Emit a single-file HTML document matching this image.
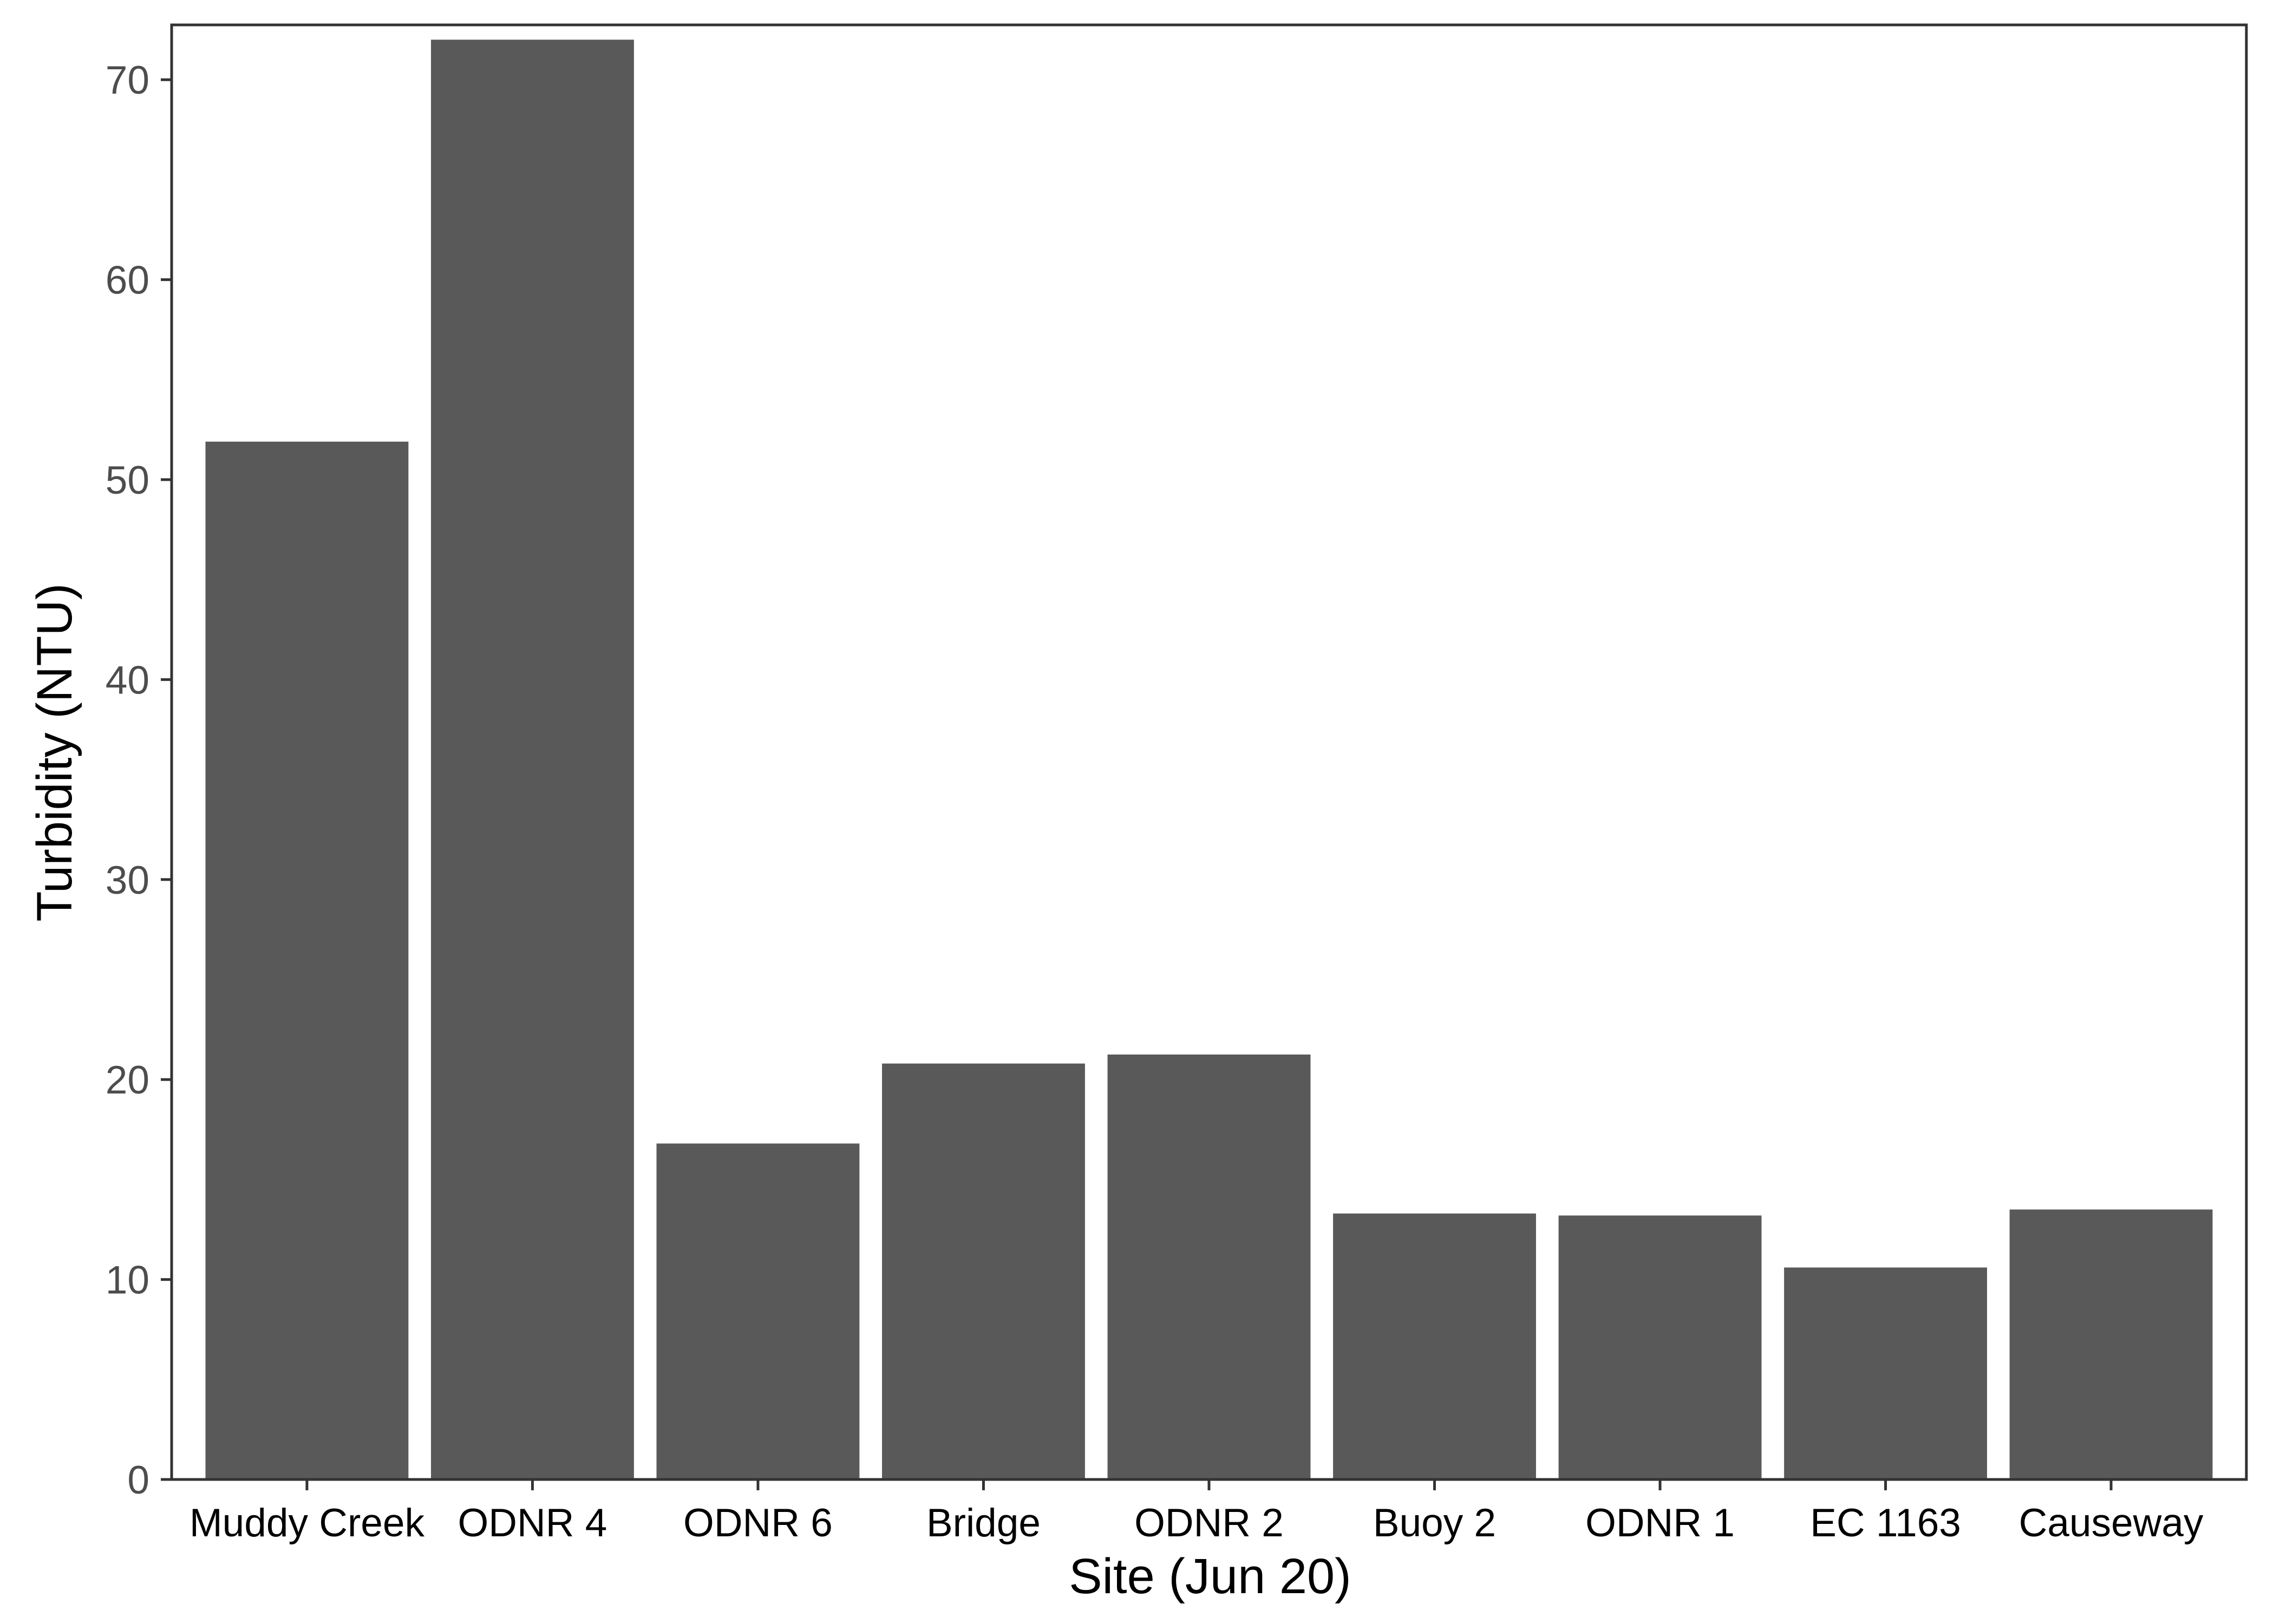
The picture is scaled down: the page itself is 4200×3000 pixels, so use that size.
<!DOCTYPE html>
<html><head><meta charset="utf-8"><style>
html,body{margin:0;padding:0;background:#fff;}
svg{display:block;font-family:"Liberation Sans",Arial,sans-serif;}
</style></head><body>
<svg id="chart" width="4200" height="3000" viewBox="0 0 4200 3000" xmlns="http://www.w3.org/2000/svg">
<rect x="0" y="0" width="4200" height="3000" fill="#fff"/>
<g id="bars"></g>
<g id="yaxis"></g>
<g id="xaxis"></g>
<rect x="317" y="46" width="3832" height="2687" fill="none" stroke="#333" stroke-width="5"/>
<text x="2235" y="2943" font-size="92" text-anchor="middle" fill="#000">Site (Jun 20)</text>
<text x="0" y="0" transform="translate(132,1390) rotate(-90)" font-size="92" text-anchor="middle" fill="#000">Turbidity (NTU)</text>
</svg>
<script>
const categories = ["Muddy Creek","ODNR 4","ODNR 6","Bridge","ODNR 2","Buoy 2","ODNR 1","EC 1163","Causeway"];
const values = [51.9, 72.0, 16.8, 20.8, 21.25, 13.3, 13.2, 10.6, 13.5];
const yTicks = [0,10,20,30,40,50,60,70];

const NS = "http://www.w3.org/2000/svg";
const PL = 317, PR = 4149, PT = 46, PB = 2733;
const unit = (PR - PL) / (categories.length + 0.2);
function xScale(i){ return PL + (i + 0.6) * unit; }
function yScale(v){ return PB - v * 36.94; }
function mk(tag, attrs, parent){ const e = document.createElementNS(NS, tag); for (const k in attrs) e.setAttribute(k, attrs[k]); parent.appendChild(e); return e; }

const bars = document.getElementById('bars');
const xa = document.getElementById('xaxis');
const ya = document.getElementById('yaxis');
const bw = unit * 0.9;
categories.forEach((c, i) => {
  const cx = xScale(i);
  const r = mk('rect', {x: cx - bw/2, y: yScale(values[i]), width: bw, height: PB - yScale(values[i]), fill: '#595959'}, bars);
  
  
  const t = mk('line', {x1: cx, x2: cx, y1: PB, y2: PB + 20, stroke: '#333', 'stroke-width': 5}, xa);
  
  
  const l = mk('text', {x: cx, y: 2838, 'font-size': 73, 'text-anchor': 'middle', fill: '#000'}, xa);
  l.textContent = c;
  
  
});
yTicks.forEach(v => {
  const y = yScale(v);
  const t = mk('line', {x1: PL - 20, x2: PL, y1: y, y2: y, stroke: '#333', 'stroke-width': 5}, ya);
  
  
  const l = mk('text', {x: 276, y: y + 26, 'font-size': 73, 'text-anchor': 'end', fill: '#4d4d4d'}, ya);
  l.textContent = v;
  
  
});
</script>
</body></html>
